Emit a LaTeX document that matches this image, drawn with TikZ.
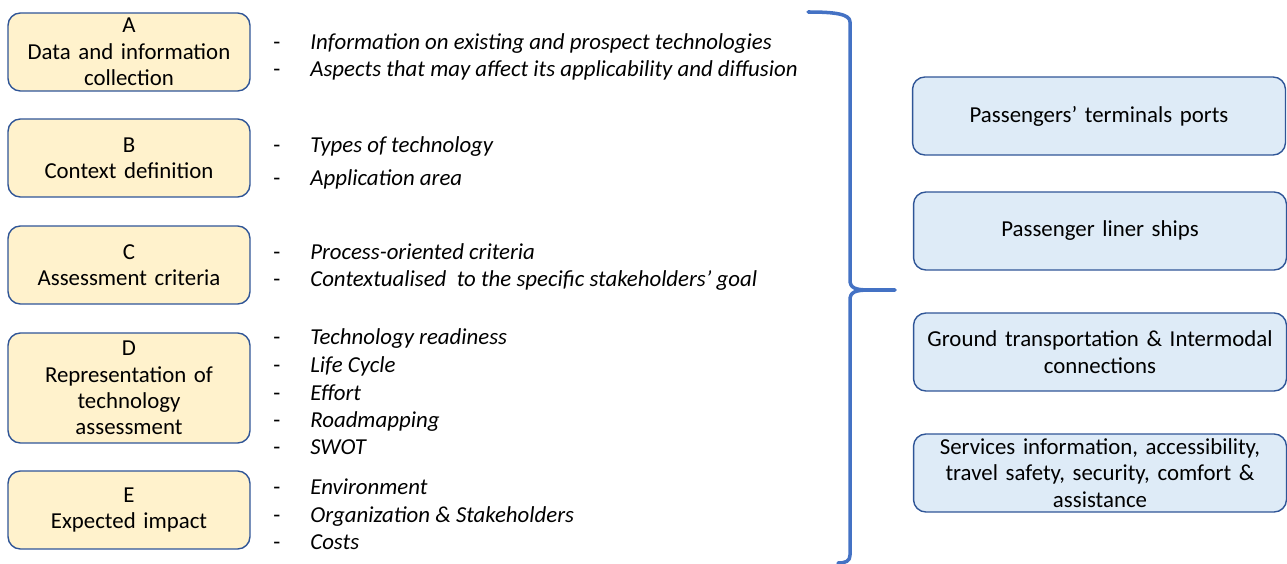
\documentclass[tikz,border=0pt]{standalone}
\usepackage{fontspec}
\setmainfont{Carlito}
\definecolor{stagefill}{HTML}{FFF2CC}
\definecolor{scopefill}{HTML}{DEEBF7}
\definecolor{edgeblue}{HTML}{2F5597}
\definecolor{bracecol}{HTML}{4472C4}
\newcommand{\diagfont}{\fontsize{13}{15}\selectfont}
\tikzset{
	stagebox/.style={draw=edgeblue, fill=stagefill, rounded corners=7pt, line width=0.8pt, minimum width=4.84cm, minimum height=1.56cm, text width=4.7cm, align=center, inner sep=0pt},
	scopebox/.style={draw=edgeblue, fill=scopefill, rounded corners=7pt, line width=0.8pt, minimum width=7.46cm, minimum height=1.56cm, text width=7.4cm, align=center, inner sep=0pt},
	dashmark/.style={anchor=base west, inner sep=0pt},
	item/.style={anchor=base west, inner sep=0pt, font=\diagfont\itshape}
}
\begin{document}
\begin{tikzpicture}[x=0.02cm, y=-0.02cm, font=\diagfont, line join=round, line cap=round]
	\useasboundingbox (0,0) rectangle (1287,564);
	% Các bước đánh giá
	\node[stagebox] (A) at (129,52) {A\\Data and information\\collection};
	\node[stagebox] (B) at (129,158) {B\\Context definition};
	\node[stagebox] (C) at (129,265) {C\\Assessment criteria};
	\node[stagebox, minimum height=2.2cm] (D) at (129,388) {D\\Representation of\\technology\\assessment};
	\node[stagebox] (E) at (129,510) {E\\Expected impact};
	% Danh sách ý
	\foreach \y/\t [count=\i] in {
		44/Information on existing and prospect technologies,
		71/Aspects that may affect its applicability and diffusion,
		147/Types of technology,
		180/Application area,
		253/Process-oriented criteria,
		280/Contextualised\ \ to the specific stakeholders’ goal,
		338/Technology readiness,
		366/Life Cycle,
		394/Effort,
		421/Roadmapping,
		448/SWOT,
		488/Environment,
		516/Organization \& Stakeholders,
		543/Costs}
	{
		\node[dashmark] (m\i) at (273,\y+6) {-};
		\node[item] (t\i) at (310,\y+6) {\t};
	}
	% Dấu ngoặc
	\draw[bracecol, line width=2pt] (808,12) .. controls (835,12) and (850,14) .. (850,22) -- (850,280)
		.. controls (850,288) and (855,290) .. (870,290) -- (895,290)
		(870,290) .. controls (855,290) and (850,292) .. (850,300) -- (850,555)
		.. controls (850,561) and (846,563) .. (838,563);
	% Phạm vi áp dụng
	\node[scopebox] (P1) at (1099,116) {Passengers’ terminals ports};
	\node[scopebox] (P2) at (1100,231) {Passenger liner ships};
	\node[scopebox] (P3) at (1100,352) {Ground transportation \& Intermodal\\connections};
	\node[scopebox] (P4) at (1100,473) {Services information, accessibility,\\travel safety, security, comfort \&\\assistance};
\end{tikzpicture}
\end{document}
